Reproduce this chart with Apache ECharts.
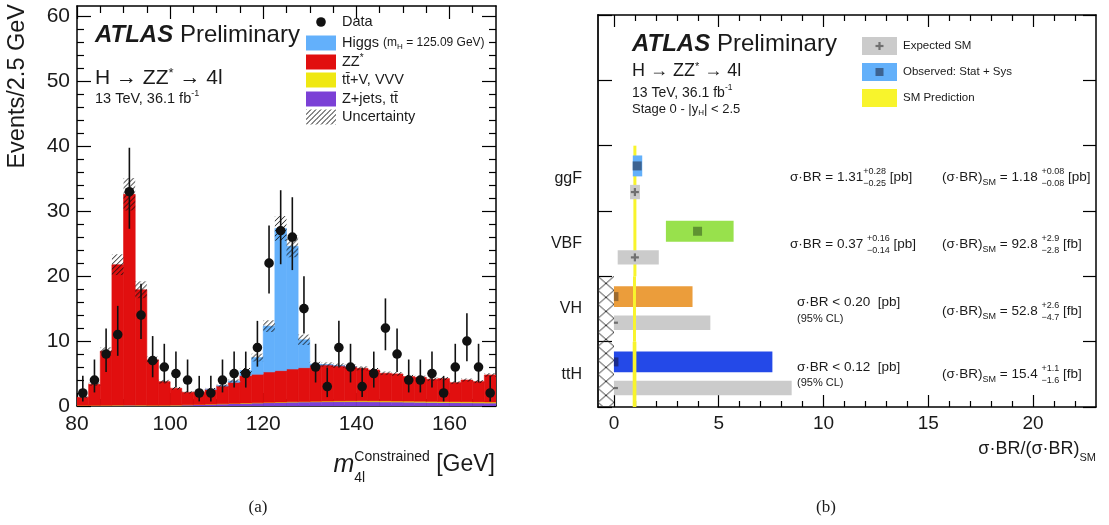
<!DOCTYPE html>
<html><head><meta charset="utf-8">
<script src="https://cdn.jsdelivr.net/npm/echarts@6/dist/echarts.min.js"></script>
<style>html,body{margin:0;padding:0;background:#fff}#c{width:1109px;height:525px}</style>
</head><body><div id="c"></div>
<script>
// ================= Panel (a): m4l histogram =================
const binLow = [80,82.5,85,87.5,90,92.5,95,97.5,100,102.5,105,107.5,110,112.5,115,117.5,120,122.5,125,127.5,130,132.5,135,137.5,140,142.5,145,147.5,150,152.5,155,157.5,160,162.5,165,167.5];
const binWidth = 2.5;
const zjets = [0.08,0.08,0.1,0.12,0.15,0.12,0.1,0.1,0.13,0.18,0.22,0.27,0.32,0.38,0.42,0.47,0.52,0.56,0.6,0.62,0.65,0.67,0.68,0.68,0.68,0.66,0.64,0.62,0.6,0.58,0.56,0.54,0.52,0.5,0.48,0.46];
const ttv = [0.02,0.02,0.02,0.02,0.02,0.02,0.02,0.02,0.02,0.02,0.02,0.02,0.03,0.03,0.04,0.04,0.05,0.05,0.06,0.07,0.08,0.09,0.1,0.11,0.12,0.13,0.14,0.14,0.15,0.15,0.15,0.15,0.15,0.15,0.15,0.15];
const zz = [1.24,3.25,8.32,21.62,32.43,17.76,6.98,3.63,2.58,1.91,1.87,2.28,2.74,3.24,4.22,4.38,4.68,4.84,5.04,5.21,5.57,5.57,5.42,5.28,5.0,4.76,4.26,4.18,3.78,3.69,3.41,3.53,2.93,3.35,3.13,4.17];
const higgs = [0,0,0,0,0,0,0,0,0,0,0,0.01,0.03,0.2,0.77,2.57,7.05,21.9,18.9,4.3,0.15,0.05,0.02,0.01,0,0,0,0,0,0,0,0,0,0,0,0];
const uncert = [0.12,0.25,0.6,1.6,2.5,1.3,0.5,0.28,0.2,0.17,0.17,0.2,0.22,0.25,0.4,0.6,0.9,1.9,1.7,0.8,0.35,0.35,0.34,0.33,0.32,0.3,0.28,0.28,0.26,0.25,0.24,0.24,0.22,0.24,0.23,0.28];
const dataCounts = [2,4,8,11,33,14,7,6,5,4,2,2,4,5,5,9,22,27,26,15,6,3,9,6,3,5,12,8,4,4,5,2,6,10,6,2];
const errUp = [2.64,3.16,3.94,4.42,6.77,4.84,3.77,3.58,3.38,3.16,2.64,2.64,3.16,3.38,3.38,4.11,5.79,6.23,6.15,4.97,3.58,2.92,4.11,3.58,2.92,3.38,4.57,3.94,3.16,3.16,3.38,2.64,3.58,4.27,3.58,2.64];
const errDown = [1.29,1.91,2.77,3.27,5.71,3.70,2.58,2.38,2.16,1.91,1.29,1.29,1.91,2.16,2.16,2.94,4.66,5.17,5.07,3.83,2.38,1.63,2.94,2.38,1.63,2.16,3.42,2.77,1.91,1.91,2.16,1.29,2.38,3.11,2.38,1.29];
const aXTicks = [80,100,120,140,160];
const aXMinor = [85,90,95,105,110,115,125,130,135,145,150,155,165];
const aYTicks = [0,10,20,30,40,50,60];
const aYMinor = [2,4,6,8,12,14,16,18,22,24,26,28,32,34,36,38,42,44,46,48,52,54,56,58];

// ================= Panel (b): cross sections =================
const categories = ['ttH','VH','VBF','ggF'];
const obsLow = [0, 0, 2.48, 0.90];
const obsHigh = [7.56, 3.75, 5.71, 1.35];
const obsCentral = [0, 0, 3.99, 1.11];
const expLow = [0, 0, 0.18, 0.77];
const expHigh = [8.48, 4.60, 2.14, 1.24];
const expCentral = [0, 0, 1, 1];
const smLow = [0.896, 0.911, 0.970, 0.932];
const smHigh = [1.071, 1.049, 1.031, 1.068];
const limitCategories = ['ttH','VH'];
const bXTicks = [0,5,10,15,20];
const bXMinor = [1,2,3,4,6,7,8,9,11,12,13,14,16,17,18,19,21,22];
const bYTicks = [0,1,2,3,4,5,6];

// ================= styles =================
const FF = '"Liberation Sans", Arial, Helvetica, sans-serif';
const TXT = '#1a1a1a';
const C = {purple:'#7b40d6', yellow:'#efe812', red:'#e10f0f', blue:'#63b0fb'};
const obsColors = ['#2449e8','#eb9d3b','#98e14c','#63b0fa'];
const obsMarkColors = ['#1b2b8c','#9b6a30','#5f9331','#3d6391'];
const expColor = '#cbcbcb', expMark = '#707070', smColor = '#f8f42c';

function makePattern(w, h, draw){
  const c = document.createElement('canvas'); c.width = w; c.height = h;
  const g = c.getContext('2d'); draw(g); return {image:c, repeat:'repeat'};
}
const hatch = makePattern(5,5,g=>{ g.strokeStyle='#111'; g.lineWidth=1;
  g.beginPath(); g.moveTo(-1,6); g.lineTo(6,-1); g.moveTo(-1,1); g.lineTo(1,-1); g.moveTo(4,6); g.lineTo(6,4); g.stroke(); });
const cross = makePattern(16,14,g=>{ g.strokeStyle='#333'; g.lineWidth=1;
  g.beginPath(); g.moveTo(0,0); g.lineTo(16,14); g.moveTo(16,0); g.lineTo(0,14); g.stroke(); });

// ================= text helpers =================
const mc = document.createElement('canvas').getContext('2d');
function fontStr(s, st, w){ return `${st||'normal'} ${w||'normal'} ${s}px ${FF}`; }
function measure(t, s, st, w){ mc.font = fontStr(s, st, w); return mc.measureText(t).width; }
function txt(x, y, t, s, st, w, fill, align){
  return {type:'text', x, y, silent:true, z:100,
    style:{text:t, font:fontStr(s, st, w), fill:fill||TXT, textAlign:align||'left', textVerticalAlign:'middle'}};
}
function rich(x, y, parts, align){
  const widths = parts.map(p => p.sup !== undefined ? Math.max(measure(p.sup, p.s), measure(p.sub, p.s)) : measure(p.t, p.s, p.st, p.w));
  const total = widths.reduce((a,b)=>a+b, 0);
  let cx = align === 'right' ? x - total : (align === 'center' ? x - total/2 : x);
  const out = [];
  parts.forEach((p, i) => {
    if (p.sup !== undefined) {
      out.push(txt(cx, y + (p.upDy||-5), p.sup, p.s));
      out.push(txt(cx, y + (p.dnDy||7), p.sub, p.s));
    } else out.push(txt(cx, y + (p.dy||0), p.t, p.s, p.st, p.w, p.fill));
    cx += widths[i];
  });
  return out;
}

// ================= axes =================
const lineSt = {color:'#000', width:1.5};
const tickSt = {color:'#000', width:1.2};
function vAxis(o){
  const ax = {gridIndex:o.grid, type:'value', min:o.min, max:o.max, position:o.pos,
    axisLine:{show:!!o.line, onZero:false, lineStyle:o.line||lineSt},
    axisTick:{show:!!o.ticks, inside:true, length:o.len||0, customValues:o.ticks||[], lineStyle:tickSt},
    axisLabel:{show:false}, splitLine:{show:false}, minorTick:{show:false}};
  if (o.labels) {
    ax.axisLabel = {show:true, customValues:o.labels, fontSize:o.fs, color:TXT, fontFamily:FF, margin:o.margin};
    if (o.fmt) ax.axisLabel.formatter = o.fmt;
  }
  return ax;
}
const AX = {xmin:80, xmax:170, ymin:0, ymax:61.6};
const BX = {xmin:-0.76, xmax:23, ymin:0, ymax:6};
const xAxes = [
  vAxis({grid:0, min:AX.xmin, max:AX.xmax, pos:'bottom', line:lineSt, ticks:aXTicks, len:13, labels:aXTicks, fs:21, margin:8}),
  vAxis({grid:0, min:AX.xmin, max:AX.xmax, pos:'top', line:lineSt, ticks:aXTicks, len:13}),
  vAxis({grid:1, min:AX.xmin, max:AX.xmax, pos:'bottom', ticks:aXMinor, len:7}),
  vAxis({grid:1, min:AX.xmin, max:AX.xmax, pos:'top', ticks:aXMinor, len:7}),
  vAxis({grid:2, min:BX.xmin, max:BX.xmax, pos:'bottom', line:lineSt, ticks:bXTicks, len:12, labels:bXTicks, fs:19, margin:7}),
  vAxis({grid:2, min:BX.xmin, max:BX.xmax, pos:'top', line:lineSt, ticks:bXTicks, len:12}),
  vAxis({grid:3, min:BX.xmin, max:BX.xmax, pos:'bottom', ticks:bXMinor, len:6}),
  vAxis({grid:3, min:BX.xmin, max:BX.xmax, pos:'top', ticks:bXMinor, len:6})
];
const yAxes = [
  vAxis({grid:0, min:AX.ymin, max:AX.ymax, pos:'left', line:lineSt, ticks:aYTicks, len:14, labels:aYTicks, fs:21, margin:7}),
  vAxis({grid:0, min:AX.ymin, max:AX.ymax, pos:'right', line:lineSt, ticks:aYTicks, len:14}),
  vAxis({grid:1, min:AX.ymin, max:AX.ymax, pos:'left', ticks:aYMinor, len:7}),
  vAxis({grid:1, min:AX.ymin, max:AX.ymax, pos:'right', ticks:aYMinor, len:7}),
  vAxis({grid:2, min:BX.ymin, max:BX.ymax, pos:'left', line:{color:'#222', width:2}, ticks:bYTicks, len:14,
         labels:categories.map((c,i)=>i+0.5), fs:16, margin:16, fmt:v=>categories[Math.floor(v)]}),
  vAxis({grid:2, min:BX.ymin, max:BX.ymax, pos:'right', line:lineSt, ticks:bYTicks, len:13}),
  vAxis({grid:3, min:BX.ymin, max:BX.ymax, pos:'left'})
];
const gA = {left:77, top:6, width:419, height:400, outerBoundsMode:'none', containLabel:false};
const gB = {left:598, top:15, width:498, height:392, outerBoundsMode:'none', containLabel:false};

// ================= panel (a) series =================
function rectFrom(api, x0, y0, x1, y1){
  const a = api.coord([x0, y0]), b = api.coord([x1, y1]);
  return {x:Math.min(a[0],b[0]), y:Math.min(a[1],b[1]), width:Math.abs(b[0]-a[0]), height:Math.abs(b[1]-a[1])};
}
const components = [
  {name:'Z+jets, tt̄', vals:zjets, color:C.purple},
  {name:'tt̄+V, VVV', vals:ttv, color:C.yellow},
  {name:'ZZ*', vals:zz, color:C.red},
  {name:'Higgs', vals:higgs, color:C.blue}
];
let base = binLow.map(()=>0);
const series = [];
components.forEach(c => {
  const data = binLow.map((x, i) => [x, x + binWidth, base[i], base[i] + c.vals[i]]);
  base = base.map((b, i) => b + c.vals[i]);
  series.push({type:'custom', name:c.name, xAxisIndex:0, yAxisIndex:0, clip:true, silent:true, z:2, data,
    renderItem:(p, api) => {
      if (api.value(3) - api.value(2) <= 0) return null;
      return {type:'rect', shape:rectFrom(api, api.value(0), api.value(2), api.value(1), api.value(3)),
        style:{fill:c.color, stroke:c.color, lineWidth:0.6}};
    }});
});
const total = base;
series.push({type:'custom', name:'Uncertainty', xAxisIndex:0, yAxisIndex:0, clip:true, silent:true, z:3,
  data: binLow.map((x, i) => [x, x + binWidth, total[i] - uncert[i], total[i] + uncert[i]]),
  renderItem:(p, api) => {
    const r = rectFrom(api, api.value(0), api.value(2), api.value(1), api.value(3));
    return {type:'rect', x:r.x, y:r.y, shape:{x:0, y:0, width:r.width, height:r.height}, style:{fill:hatch}};
  }});
series.push({type:'custom', name:'Data', xAxisIndex:0, yAxisIndex:0, clip:true, silent:true, z:5,
  data: binLow.map((x, i) => [x + binWidth/2, dataCounts[i], dataCounts[i] - errDown[i], dataCounts[i] + errUp[i]]),
  renderItem:(p, api) => {
    const c = api.coord([api.value(0), api.value(1)]);
    const lo = api.coord([api.value(0), api.value(2)]), hi = api.coord([api.value(0), api.value(3)]);
    return {type:'group', children:[
      {type:'line', shape:{x1:c[0], y1:lo[1], x2:c[0], y2:hi[1]}, style:{stroke:'#111', lineWidth:1.6}},
      {type:'circle', shape:{cx:c[0], cy:c[1], r:4.8}, style:{fill:'#111'}}
    ]};
  }});

// ================= panel (b) series =================
const limitIdx = limitCategories.map(c => categories.indexOf(c));
series.push({type:'custom', name:'limit-region', xAxisIndex:4, yAxisIndex:4, clip:true, silent:true, z:2,
  data:[[Math.min(...limitIdx), Math.max(...limitIdx) + 1]],
  renderItem:(p, api) => {
    const r = rectFrom(api, BX.xmin, api.value(0), 0, api.value(1));
    return {type:'rect', x:r.x, y:r.y, shape:{x:0, y:0, width:r.width, height:r.height}, style:{fill:cross}};
  }});
series.push({type:'custom', name:'SM Prediction', xAxisIndex:4, yAxisIndex:4, clip:true, silent:true, z:3,
  data: categories.map((c, i) => [i, smLow[i], smHigh[i]]),
  renderItem:(p, api) => {
    const i = api.value(0);
    const r = rectFrom(api, api.value(1), i, api.value(2), i + 1);
    if (r.width < 3) { r.x -= (3 - r.width) / 2; r.width = 3; }
    return {type:'rect', shape:r, z2: limitIdx.includes(i) ? 20 : 5, style:{fill:smColor}};
  }});
function boxRender(kind){
  return (p, api) => {
    const i = api.value(0), lo = api.value(1), hi = api.value(2), cen = api.value(3);
    const y0 = kind === 'obs' ? i + 0.53 : i + 0.18, y1 = kind === 'obs' ? i + 0.85 : i + 0.40;
    const r = rectFrom(api, lo, y0, hi, y1);
    const zero = api.coord([0, 0])[0];
    const cc = api.coord([cen, (y0 + y1) / 2]);
    const z2 = limitIdx.includes(i) ? 10 : 15;
    const kids = [{type:'rect', shape:r, z2, style:{fill: kind === 'obs' ? obsColors[i] : expColor}}];
    if (kind === 'obs') {
      const hs = 4.5, left = Math.max(cc[0] - hs, zero);
      kids.push({type:'rect', z2:z2+1, shape:{x:left, y:cc[1]-hs, width:cc[0]+hs-left, height:2*hs}, style:{fill:obsMarkColors[i]}});
    } else {
      const hs = 4;
      kids.push({type:'line', z2:z2+1, shape:{x1:Math.max(cc[0]-hs, zero), y1:cc[1], x2:cc[0]+hs, y2:cc[1]}, style:{stroke:expMark, lineWidth:2.2}});
      if (cc[0] - 1 >= zero) kids.push({type:'line', z2:z2+1, shape:{x1:cc[0], y1:cc[1]-hs, x2:cc[0], y2:cc[1]+hs}, style:{stroke:expMark, lineWidth:2.2}});
    }
    return {type:'group', children:kids};
  };
}
series.push({type:'custom', name:'Expected SM', xAxisIndex:4, yAxisIndex:4, clip:true, silent:true, z:3,
  data: categories.map((c, i) => [i, expLow[i], expHigh[i], expCentral[i]]), renderItem:boxRender('exp')});
series.push({type:'custom', name:'Observed: Stat + Sys', xAxisIndex:4, yAxisIndex:4, clip:true, silent:true, z:3,
  data: categories.map((c, i) => [i, obsLow[i], obsHigh[i], obsCentral[i]]), renderItem:boxRender('obs')});

// ================= graphic (texts, legends) =================
const G = [];
// panel (a)
G.push({type:'text', x:18, y:4, rotation:Math.PI/2, silent:true,
  style:{text:'Events/2.5 GeV', font:fontStr(23.5), fill:TXT, textAlign:'right', textVerticalAlign:'middle'}});
G.push(...rich(95, 35, [{t:'ATLAS', s:24, st:'italic', w:'bold'}, {t:' Preliminary', s:24}]));
G.push(...rich(95, 78, [{t:'H → ZZ', s:21}, {t:'*', s:13, dy:-5}, {t:' → 4l', s:21}]));
G.push(...rich(95, 99, [{t:'13 TeV, 36.1 fb', s:14.5}, {t:'-1', s:9, dy:-5}]));
G.push(...rich(495, 465, [{t:'m', s:25, st:'italic'}, {sup:'Constrained', sub:'4l', s:14, upDy:-8, dnDy:13}, {t:' [GeV]', s:23}], 'right'));
// legend (a)
const lgX = 306, lgW = 30, lgH = 15, lgT = 342;
const rowsA = [22, 43, 62, 80, 99, 117];
G.push({type:'circle', shape:{cx:lgX + lgW/2, cy:rowsA[0], r:4.8}, style:{fill:'#111'}, silent:true});
G.push(...rich(lgT, rowsA[0], [{t:'Data', s:14.5}]));
[[C.blue],[C.red],[C.yellow],[C.purple]].forEach((c, k) => {
  G.push({type:'rect', shape:{x:lgX, y:rowsA[k+1]-lgH/2, width:lgW, height:lgH}, style:{fill:c[0]}, silent:true});
});
G.push({type:'rect', x:lgX, y:rowsA[5]-lgH/2, shape:{x:0, y:0, width:lgW, height:lgH}, style:{fill:hatch}, silent:true});
G.push(...rich(lgT, rowsA[1], [{t:'Higgs ', s:14.5}, {t:'(m', s:12}, {t:'H', s:8, dy:4}, {t:' = 125.09 GeV)', s:12}]));
G.push(...rich(lgT, rowsA[2], [{t:'ZZ', s:14.5}, {t:'*', s:10, dy:-4}]));
G.push(...rich(lgT, rowsA[3], [{t:'tt̄+V, VVV', s:14.5}]));
G.push(...rich(lgT, rowsA[4], [{t:'Z+jets, tt̄', s:14.5}]));
G.push(...rich(lgT, rowsA[5], [{t:'Uncertainty', s:14.5}]));
// panel (b)
G.push(...rich(632, 44, [{t:'ATLAS', s:24, st:'italic', w:'bold'}, {t:' Preliminary', s:24}]));
G.push(...rich(632, 71, [{t:'H → ZZ', s:18}, {t:'*', s:11, dy:-4}, {t:' → 4l', s:18}]));
G.push(...rich(632, 93, [{t:'13 TeV, 36.1 fb', s:14}, {t:'-1', s:8.5, dy:-5}]));
G.push(...rich(632, 109, [{t:'Stage 0 - |y', s:13}, {t:'H', s:8, dy:4}, {t:'| < 2.5', s:13}]));
G.push(...rich(1096, 449, [{t:'σ·BR/(σ·BR)', s:18}, {t:'SM', s:11, dy:9}], 'right'));
// legend (b)
const lbX = 862, lbW = 35, lbH = 18;
const rowsB = [46, 72, 98];
G.push({type:'rect', shape:{x:lbX, y:rowsB[0]-lbH/2, width:lbW, height:lbH}, style:{fill:expColor}, silent:true});
G.push({type:'line', shape:{x1:lbX+lbW/2-4, y1:rowsB[0], x2:lbX+lbW/2+4, y2:rowsB[0]}, style:{stroke:expMark, lineWidth:2.2}, silent:true});
G.push({type:'line', shape:{x1:lbX+lbW/2, y1:rowsB[0]-4, x2:lbX+lbW/2, y2:rowsB[0]+4}, style:{stroke:expMark, lineWidth:2.2}, silent:true});
G.push({type:'rect', shape:{x:lbX, y:rowsB[1]-lbH/2, width:lbW, height:lbH}, style:{fill:obsColors[3]}, silent:true});
G.push({type:'rect', shape:{x:lbX+lbW/2-4, y:rowsB[1]-4, width:8, height:8}, style:{fill:obsMarkColors[3]}, silent:true});
G.push({type:'rect', shape:{x:lbX, y:rowsB[2]-lbH/2, width:lbW, height:lbH}, style:{fill:smColor}, silent:true});
G.push(...rich(903, rowsB[0], [{t:'Expected SM', s:11.5}]));
G.push(...rich(903, rowsB[1], [{t:'Observed: Stat + Sys', s:11.5}]));
G.push(...rich(903, rowsB[2], [{t:'SM Prediction', s:11.5}]));
// annotations (b)
const ann = 13.5, annS = 9;
G.push(...rich(790, 177, [{t:'σ·BR = 1.31', s:ann}, {sup:'+0.28', sub:'−0.25', s:annS}, {t:' [pb]', s:ann}]));
G.push(...rich(942, 177, [{t:'(σ·BR)', s:ann}, {t:'SM', s:annS, dy:6}, {t:' = 1.18 ', s:ann}, {sup:'+0.08', sub:'−0.08', s:annS}, {t:' [pb]', s:ann}]));
G.push(...rich(790, 244, [{t:'σ·BR = 0.37 ', s:ann}, {sup:'+0.16', sub:'−0.14', s:annS}, {t:' [pb]', s:ann}]));
G.push(...rich(942, 244, [{t:'(σ·BR)', s:ann}, {t:'SM', s:annS, dy:6}, {t:' = 92.8 ', s:ann}, {sup:'+2.9', sub:'−2.8', s:annS}, {t:' [fb]', s:ann}]));
G.push(...rich(797, 302, [{t:'σ·BR < 0.20  [pb]', s:ann}]));
G.push(...rich(797, 319, [{t:'(95% CL)', s:11}]));
G.push(...rich(942, 311, [{t:'(σ·BR)', s:ann}, {t:'SM', s:annS, dy:6}, {t:' = 52.8 ', s:ann}, {sup:'+2.6', sub:'−4.7', s:annS}, {t:' [fb]', s:ann}]));
G.push(...rich(797, 367, [{t:'σ·BR < 0.12  [pb]', s:ann}]));
G.push(...rich(797, 383, [{t:'(95% CL)', s:11}]));
G.push(...rich(942, 374, [{t:'(σ·BR)', s:ann}, {t:'SM', s:annS, dy:6}, {t:' = 15.4 ', s:ann}, {sup:'+1.1', sub:'−1.6', s:annS}, {t:' [fb]', s:ann}]));
// captions
G.push({type:'text', x:258, y:508, silent:true, style:{text:'(a)', font:'normal 17px "Liberation Serif", "Times New Roman", serif', fill:TXT, textAlign:'center', textVerticalAlign:'middle'}});
G.push({type:'text', x:826, y:508, silent:true, style:{text:'(b)', font:'normal 17px "Liberation Serif", "Times New Roman", serif', fill:TXT, textAlign:'center', textVerticalAlign:'middle'}});

const chart = echarts.init(document.getElementById('c'), null, {renderer:'canvas'});
chart.setOption({
  animation:false, backgroundColor:'#fff',
  grid:[gA, gA, gB, gB],
  xAxis:xAxes, yAxis:yAxes,
  series, graphic:{elements:G}
});
</script></body></html>
